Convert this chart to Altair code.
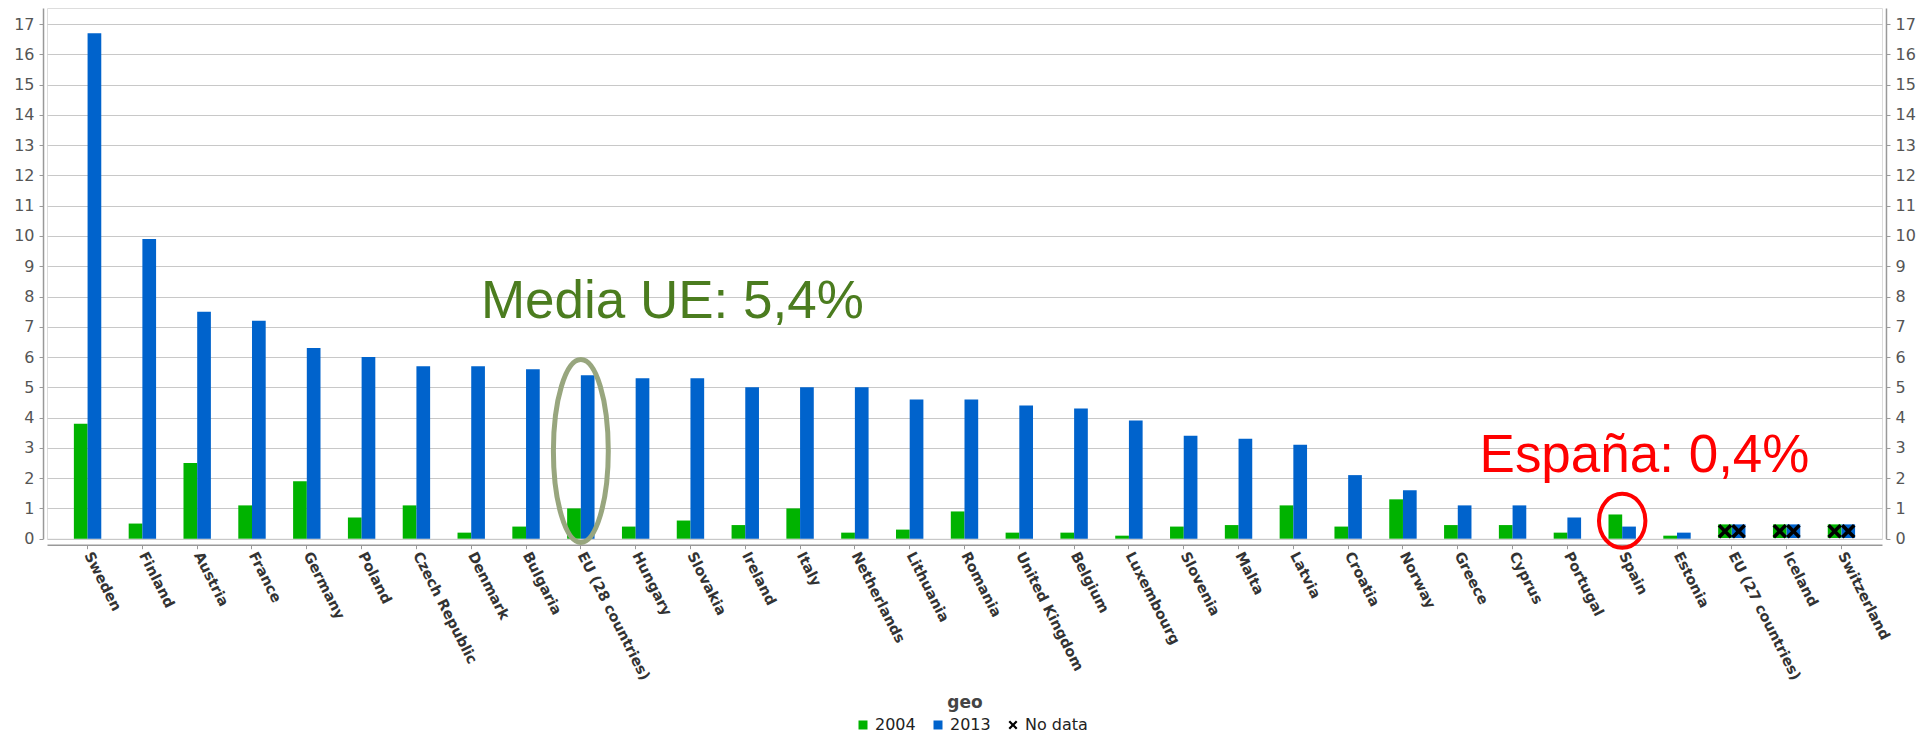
import altair as alt
import pandas as pd

countries = ["Sweden", "Finland", "Austria", "France", "Germany", "Poland",
             "Czech Republic", "Denmark", "Bulgaria", "EU (28 countries)",
             "Hungary", "Slovakia", "Ireland", "Italy", "Netherlands",
             "Lithuania", "Romania", "United Kingdom", "Belgium", "Luxembourg",
             "Slovenia", "Malta", "Latvia", "Croatia", "Norway", "Greece",
             "Cyprus", "Portugal", "Spain", "Estonia", "EU (27 countries)",
             "Iceland", "Switzerland"]
v2004 = [3.8, 0.5, 2.5, 1.1, 1.9, 0.7, 1.1, 0.2, 0.4, 1.0, 0.4, 0.6, 0.45,
         1.0, 0.2, 0.3, 0.9, 0.2, 0.2, 0.1, 0.4, 0.45, 1.1, 0.4, 1.3, 0.45,
         0.45, 0.2, 0.8, 0.1, None, None, None]
v2013 = [16.7, 9.9, 7.5, 7.2, 6.3, 6.0, 5.7, 5.7, 5.6, 5.4, 5.3, 5.3, 5.0,
         5.0, 5.0, 4.6, 4.6, 4.4, 4.3, 3.9, 3.4, 3.3, 3.1, 2.1, 1.6, 1.1,
         1.1, 0.7, 0.4, 0.2, None, None, None]
series_names = ["2004", "2013"]
legend_items = ["2004", "2013", "No data"]

note_eu_geo = ["EU (28 countries)"]
note_eu_text = ["Media UE: 5,4%"]
note_eu_y = [7.28]
ring_eu_y = [2.9]
note_es_geo = ["Spain"]
note_es_text = ["España: 0,4%"]
note_es_y = [2.21]
ring_es_y = [0.59]

GREEN = "#00b300"
BLUE = "#0063cc"

rows, nd_rows = [], []
for c, a, b in zip(countries, v2004, v2013):
    for s, v in zip(series_names, [a, b]):
        if v is None:
            nd_rows.append({"geo": c, "series": s})
        else:
            rows.append({"geo": c, "series": s, "value": v})
bars_df = pd.DataFrame(rows)
nd_df = pd.DataFrame(nd_rows)
leg_df = pd.DataFrame({"series": legend_items})

xscale = alt.Scale(domain=countries, paddingInner=0.5, paddingOuter=0.49)
yscale = alt.Scale(domain=[0, 17.53], nice=False, zero=False)
fscale = alt.Scale(domain=series_names, range=[GREEN, BLUE])
cscale = alt.Scale(domain=legend_items, range=[GREEN, BLUE, "#000000"])
xoff = alt.XOffset("series:N", scale=alt.Scale(domain=series_names, paddingInner=0, paddingOuter=0))

XPATH = "M-1,-0.65 L-0.65,-1 L0,-0.35 L0.65,-1 L1,-0.65 L0.35,0 L1,0.65 L0.65,1 L0,0.35 L-0.65,1 L-1,0.65 L-0.35,0 Z"


def ellipse_path(rx):
    k = 0.5523
    return (f"M0,-1 C{k*rx:.4f},-1 {rx:.4f},{-k:.4f} {rx:.4f},0 "
            f"C{rx:.4f},{k:.4f} {k*rx:.4f},1 0,1 "
            f"C{-k*rx:.4f},1 {-rx:.4f},{k:.4f} {-rx:.4f},0 "
            f"C{-rx:.4f},{-k:.4f} {-k*rx:.4f},-1 0,-1 Z")


x_axis = alt.Axis(orient="bottom", title="geo", titleFont="DejaVu Sans",
                  titleFontWeight="bold", titleFontSize=17, titleColor="#444",
                  titlePadding=12, labelAngle=63, labelAlign="left",
                  labelBaseline="middle", labelFont="DejaVu Sans",
                  labelFontWeight="bold", labelFontSize=14.5, labelColor="#333",
                  labelPadding=4, labelLimit=0, labelOverlap=False,
                  tickSize=4, tickColor="#999", domainColor="#999",
                  domainWidth=1.5, offset=6, grid=False)

y_common = dict(values=list(range(18)), format="d", title=None,
                domainColor="#999", domainWidth=1.5, tickColor="#999",
                tickSize=4, offset=4, labelFont="DejaVu Sans", labelFontSize=16,
                labelColor="#555", labelPadding=5)
y_left = alt.Axis(orient="left", grid=True, gridColor="#c8c8c8", gridWidth=1.2, **y_common)
y_right = alt.Axis(orient="right", grid=False, **y_common)

X = alt.X("geo:N", scale=xscale, title="geo")

bars = alt.Chart(bars_df).mark_bar().encode(
    x=alt.X("geo:N", scale=xscale, axis=x_axis),
    xOffset=xoff,
    y=alt.Y("value:Q", scale=yscale, axis=y_left),
    fill=alt.Fill("series:N", scale=fscale, legend=None),
)

right_axis = alt.Chart(bars_df).mark_bar(opacity=0).encode(
    x=X,
    xOffset=xoff,
    y=alt.Y("value:Q", scale=yscale, axis=y_right),
)

nd_squares = alt.Chart(nd_df).mark_point(shape="square", filled=True, size=185,
                                         opacity=1, yOffset=-7.5).encode(
    x=X,
    xOffset=xoff,
    y=alt.Y(datum=0, scale=yscale, axis=None),
    fill=alt.Fill("series:N", scale=fscale, legend=None),
)
nd_cross = alt.Chart(nd_df).mark_point(shape=XPATH, filled=True, size=210,
                                       opacity=1, fill="#000000", strokeWidth=0,
                                       yOffset=-7.5).encode(
    x=X,
    xOffset=xoff,
    y=alt.Y(datum=0, scale=yscale, axis=None),
)

eu_df = pd.DataFrame({"geo": note_eu_geo, "label": note_eu_text, "ty": note_eu_y, "ry": ring_eu_y})
es_df = pd.DataFrame({"geo": note_es_geo, "label": note_es_text, "ty": note_es_y, "ry": ring_es_y})

eu_text = alt.Chart(eu_df).mark_text(font="Liberation Sans", fontSize=53,
                                     fill="#4b7c1f", align="center",
                                     baseline="alphabetic", dx=91.5).encode(
    x=X,
    y=alt.Y("ty:Q", scale=yscale, axis=None),
    text="label:N",
)
es_text = alt.Chart(es_df).mark_text(font="Liberation Sans", fontSize=53,
                                     fill="#ff0000", align="center",
                                     baseline="alphabetic", dx=22.3).encode(
    x=X,
    y=alt.Y("ty:Q", scale=yscale, axis=None),
    text="label:N",
)
eu_ring = alt.Chart(eu_df).mark_point(shape=ellipse_path(0.30), filled=False,
                                      size=183 * 183, stroke="#98a67e",
                                      strokeWidth=5, opacity=1).encode(
    x=X,
    y=alt.Y("ry:Q", scale=yscale, axis=None),
)
es_ring = alt.Chart(es_df).mark_point(shape=ellipse_path(0.86), filled=False,
                                      size=54 * 54, stroke="#ff0000",
                                      strokeWidth=4, opacity=1).encode(
    x=X,
    y=alt.Y("ry:Q", scale=yscale, axis=None),
)

leg = alt.Legend(orient="none", legendX=808, legendY=709, direction="horizontal",
                 title=None, labelFont="DejaVu Sans", labelFontSize=16,
                 labelColor="#222", symbolSize=81, labelOffset=4,
                 columnPadding=14, padding=0, symbolStrokeWidth=0)
legend_layer = alt.Chart(leg_df).mark_point(filled=True, opacity=1, clip=True,
                                            size=81).encode(
    y=alt.Y(datum=-5, scale=yscale, axis=None),
    color=alt.Color("series:N", scale=cscale, legend=leg),
    shape=alt.Shape("series:N", scale=alt.Scale(domain=legend_items,
                                                range=["square", "square", XPATH]),
                    legend=leg),
)

chart = alt.layer(bars, right_axis, nd_squares, nd_cross, eu_ring, es_ring,
                  eu_text, es_text, legend_layer).resolve_axis(
    y="independent"
).properties(
    width=1835, height=530.7,
    autosize=alt.AutoSizeParams(type="none"),
    padding={"left": 39, "top": 0, "right": 41, "bottom": 194},
).configure_view(
    stroke="#a0a0a0", strokeWidth=1.5
).configure(font="DejaVu Sans")

chart.save("out.html", embed_options={"renderer": "svg", "actions": False})
